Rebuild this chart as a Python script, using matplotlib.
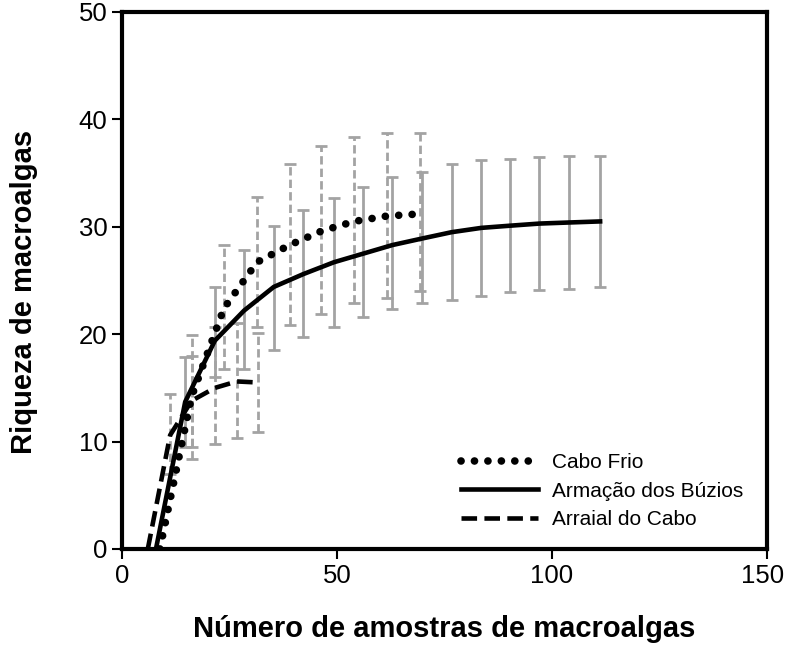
import numpy as np
import matplotlib.pyplot as plt
import matplotlib.transforms as mtransforms
from matplotlib.lines import Line2D

plt.rcParams['font.family'] = ['Liberation Sans', 'DejaVu Sans']

# Cabo Frio (dotted line, dashed grey error bars)
cf_x = [8.8, 16.2, 23.7, 31.4, 39.0, 46.4, 54.0, 61.6, 69.3]
cf_y = [0, 14.2, 22.4, 26.7, 28.3, 29.6, 30.5, 31.0, 31.2]
cf_hi = [19.9, 28.3, 32.8, 35.8, 37.5, 38.4, 38.7, 38.7]
cf_lo = [8.4, 16.8, 20.7, 20.9, 21.9, 22.9, 23.4, 24.0]

# Armação dos Búzios (solid line, solid grey error bars)
ab_x = [7.9, 14.7, 21.6, 28.4, 35.3, 42.2, 49.3, 56.1, 62.9, 69.7,
        76.7, 83.6, 90.2, 97.1, 104.0, 111.2]
ab_y = [0, 13.7, 19.4, 22.2, 24.4, 25.6, 26.7, 27.5, 28.3, 28.9,
        29.5, 29.9, 30.1, 30.3, 30.4, 30.5]
ab_hi = [17.9, 24.4, 27.8, 30.1, 31.6, 32.7, 33.7, 34.6, 35.1,
         35.8, 36.2, 36.3, 36.5, 36.6, 36.6]
ab_lo = [9.5, 16.0, 16.8, 18.5, 19.7, 20.7, 21.6, 22.3, 22.9,
         23.2, 23.6, 23.9, 24.1, 24.2, 24.4]

# Arraial do Cabo (dashed line, dashed grey error bars)
ac_x = [6.0, 11.2, 16.2, 21.6, 26.7, 31.7]
ac_y = [0, 10.6, 13.8, 15.0, 15.6, 15.5]
ac_hi = [14.4, 18.0, 20.7, 21.0, 20.1]
ac_lo = [7.0, 9.5, 9.8, 10.3, 10.9]

labels = ["Cabo Frio", "Armação dos Búzios", "Arraial do Cabo"]
grey = "#a3a3a3"

fig = plt.figure(figsize=(7.85, 6.48), dpi=100)
ax = fig.add_axes([0.1554, 0.1528, 0.8216, 0.8287])


def bars(x, y, lo, hi, dashed):
    x = np.array(x[1:])
    y = np.array(y[1:])
    err = [y - np.array(lo), np.array(hi) - y]
    eb = ax.errorbar(x, y, yerr=err, fmt="none", ecolor=grey,
                     elinewidth=2.0, capsize=4.5, capthick=2.0, zorder=1)
    if dashed:
        eb[2][0].set_linestyle((0, (3, 1.5)))


bars(ab_x, ab_y, ab_lo, ab_hi, False)
bars(cf_x, cf_y, cf_lo, cf_hi, True)
bars(ac_x, ac_y, ac_lo, ac_hi, True)

dot_style = dict(color="black", linewidth=5.5, linestyle=(0, (0.01, 1.75)),
                 dash_capstyle="round")
dash_style = dict(color="black", linewidth=3.3, linestyle=(0, (3.4, 1.6)))
solid_style = dict(color="black", linewidth=3.3)

ax.plot(cf_x, cf_y, zorder=3, **dot_style)
ax.plot(ab_x, ab_y, zorder=3, **solid_style)
ax.plot(ac_x, ac_y, zorder=3, **dash_style)

handles = [Line2D([], [], **dot_style), Line2D([], [], **solid_style),
           Line2D([], [], **dash_style)]
ax.legend(handles, labels, loc="upper left", bbox_to_anchor=(0.496, 0.213),
          frameon=False, fontsize=15, handlelength=3.7, handletextpad=0.7,
          labelspacing=0.45)

ax.set_xlim(0, 150)
ax.set_ylim(0, 50)
ax.set_xticks([0, 50, 100, 150])
ax.set_yticks([0, 10, 20, 30, 40, 50])
for s in ax.spines.values():
    s.set_linewidth(3)
ax.tick_params(direction="out", length=7, width=1.5, labelsize=18.5)
# keep the last x label inside the canvas
last = ax.get_xticklabels()[-1]
last.set_transform(last.get_transform() +
                   mtransforms.ScaledTranslation(-4 / 100, 0, fig.dpi_scale_trans))
ax.set_xlabel("Número de amostras de macroalgas", fontsize=21,
              fontweight="bold", labelpad=20)
ax.set_ylabel("Riqueza de macroalgas", fontsize=21, fontweight="bold")
ax.yaxis.set_label_coords(-0.13, 0.478)

fig.savefig("out.png", dpi=100)
